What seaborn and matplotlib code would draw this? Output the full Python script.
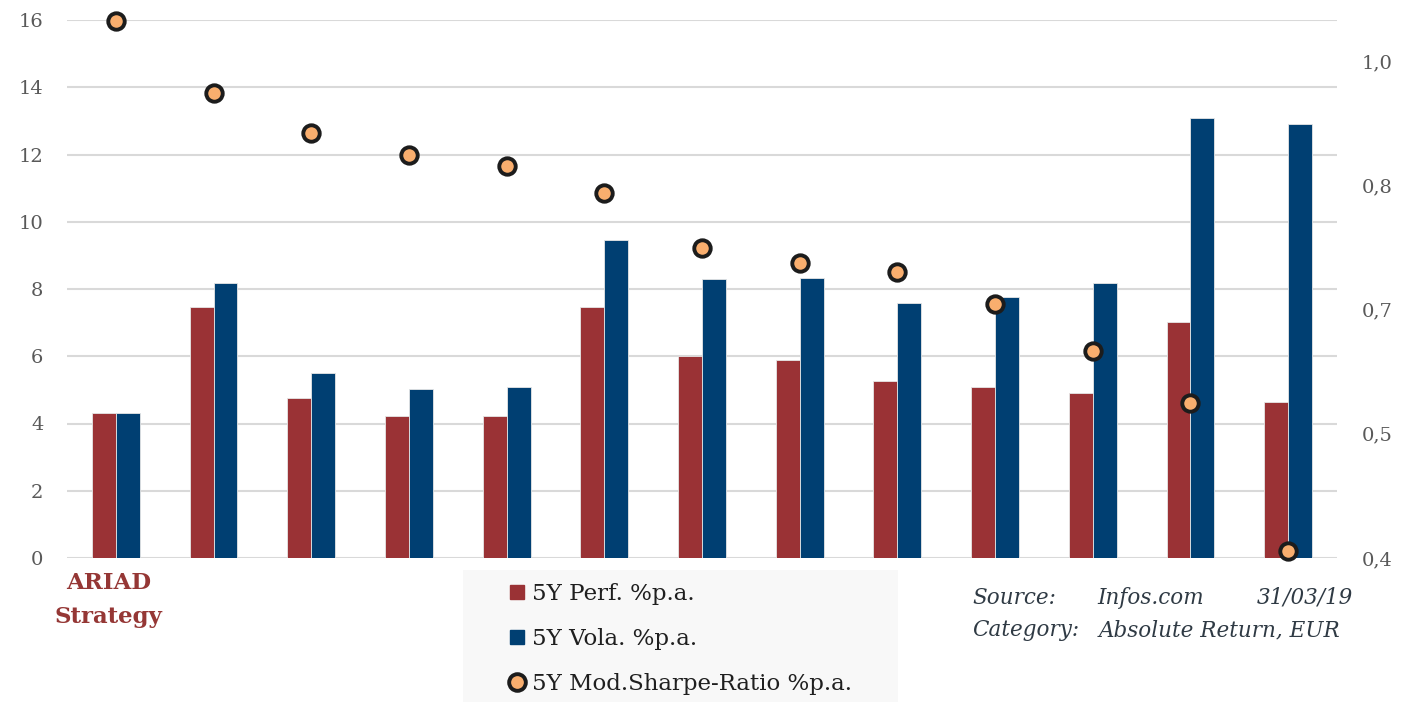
# Fondsvergleich Absolute Return EUR: Performance, Volatilitaet, Sharpe-Ratio
import numpy as np
import pandas as pd
import matplotlib
matplotlib.use("Agg")
import matplotlib.pyplot as plt
import matplotlib.transforms as mtrans
from matplotlib.patches import Rectangle
from matplotlib.lines import Line2D
import seaborn as sns

# Daten
funds = ["ARIAD Strategy", "Fonds 2", "Fonds 3", "Fonds 4", "Fonds 5", "Fonds 6", "Fonds 7",
         "Fonds 8", "Fonds 9", "Fonds 10", "Fonds 11", "Fonds 12", "Fonds 13"]
perf = [4.31, 7.47, 4.76, 4.23, 4.23, 7.47, 6.01, 5.89, 5.27, 5.09, 4.91, 7.02, 4.64]
vola = [4.31, 8.18, 5.51, 5.03, 5.09, 9.46, 8.30, 8.33, 7.59, 7.77, 8.18, 13.10, 12.92]
sharpe = [1.049, 0.962, 0.913, 0.887, 0.874, 0.841, 0.775, 0.757, 0.746, 0.707, 0.650, 0.587, 0.408]
series = ["5Y Perf. %p.a.", "5Y Vola. %p.a."]
sharpe_label = "5Y Mod.Sharpe-Ratio %p.a."
left_ticks = [0, 2, 4, 6, 8, 10, 12, 14, 16]
right_ticks = [0.4, 0.55, 0.7, 0.85, 1.0]
right_labels = ["0,4", "0,5", "0,7", "0,8", "1,0"]
x_labels = ["ARIAD\nStrategy"] + [""] * (len(funds) - 1)

# Farben
rot = "#9a3235"
blau = "#003f72"
pfirsich = "#f9ae6e"
dunkel = "#1c1c1c"
grau = "#595959"

df = pd.DataFrame({
    "fund": funds * 2,
    "serie": [series[0]] * len(funds) + [series[1]] * len(funds),
    "wert": perf + vola,
})

sns.set_theme(style="white")
plt.rcParams["font.family"] = ["DejaVu Serif"]

W, H = 1403, 702
fig = plt.figure(figsize=(W / 100, H / 100), dpi=100)
ax = fig.add_axes([67 / W, 1 - 558 / H, (1337 - 67) / W, (558 - 20) / H])

sns.barplot(data=df, x="fund", y="wert", hue="serie", palette=[rot, blau],
            width=0.49, gap=0, saturation=1, legend=False,
            edgecolor="#e6e6e6", linewidth=0.6, ax=ax, zorder=3)
ax.set_xlim(-0.5, len(funds) - 0.5)
ax.set_ylim(0, 16)
ax.set_yticks(left_ticks)
ax.yaxis.grid(True, color="#d9d9d9", linewidth=1.5, zorder=0)
ax.set_axisbelow(True)
ax.set_xlabel("")
ax.set_ylabel("")
ax.set_xticks(range(len(funds)))
ax.set_xticklabels(x_labels, fontweight="bold", color="#953735", fontsize=16.5, linespacing=1.7)
ax.tick_params(axis="y", length=0, pad=17, labelsize=14, labelcolor=grau)
ax.tick_params(axis="x", length=0, pad=10)
# Beschriftung leicht nach links versetzen
shift = mtrans.ScaledTranslation(-7 / 100, 0, fig.dpi_scale_trans)
for lab in ax.get_xticklabels():
    lab.set_transform(lab.get_transform() + shift)
for s in ax.spines.values():
    s.set_visible(False)

# zweite Achse fuer Sharpe-Ratio
ax2 = ax.twinx()
sns.scatterplot(x=np.arange(len(funds)), y=sharpe, ax=ax2, s=140, color=pfirsich,
                edgecolor=dunkel, linewidth=2.8, zorder=5, clip_on=False)
ax2.set_ylim(0.4, 1.05)
ax2.set_yticks(right_ticks)
ax2.set_yticklabels(right_labels)
ax2.tick_params(axis="y", length=0, pad=18, labelsize=14, labelcolor=grau)
ax2.grid(False)
for s in ax2.spines.values():
    s.set_visible(False)

# Legende mit hellem Hintergrund
fig.patches.append(Rectangle((463 / W, 0), (898 - 463) / W, (702 - 570) / H,
                             transform=fig.transFigure, facecolor="#f8f8f8",
                             edgecolor="none", zorder=0))
handles = [
    Line2D([], [], marker="s", linestyle="", color=rot, markersize=10.5),
    Line2D([], [], marker="s", linestyle="", color=blau, markersize=10.5),
    Line2D([], [], marker="o", linestyle="", markerfacecolor=pfirsich,
           markeredgecolor=dunkel, markeredgewidth=2.8, markersize=12),
]
fig.legend(handles, series + [sharpe_label], loc="upper left",
           bbox_to_anchor=(509 / W, 1 - 583 / H), frameon=False, fontsize=16.5,
           handlelength=0.7, handletextpad=0.3, labelspacing=1.0,
           labelcolor="#1f1f1f", borderaxespad=0, borderpad=0)

# Quellenangabe
txt = dict(fontsize=15.5, style="italic", color="#2f3a44", va="center")
fig.text(972 / W, 1 - 598 / H, "Source:", **txt)
fig.text(1097 / W, 1 - 598 / H, "Infos.com", **txt)
fig.text(1353 / W, 1 - 598 / H, "31/03/19", ha="right", **txt)
fig.text(972 / W, 1 - 630 / H, "Category:", **txt)
fig.text(1099 / W, 1 - 630 / H, "Absolute Return, EUR", **txt)

fig.savefig("out.png", dpi=100)
